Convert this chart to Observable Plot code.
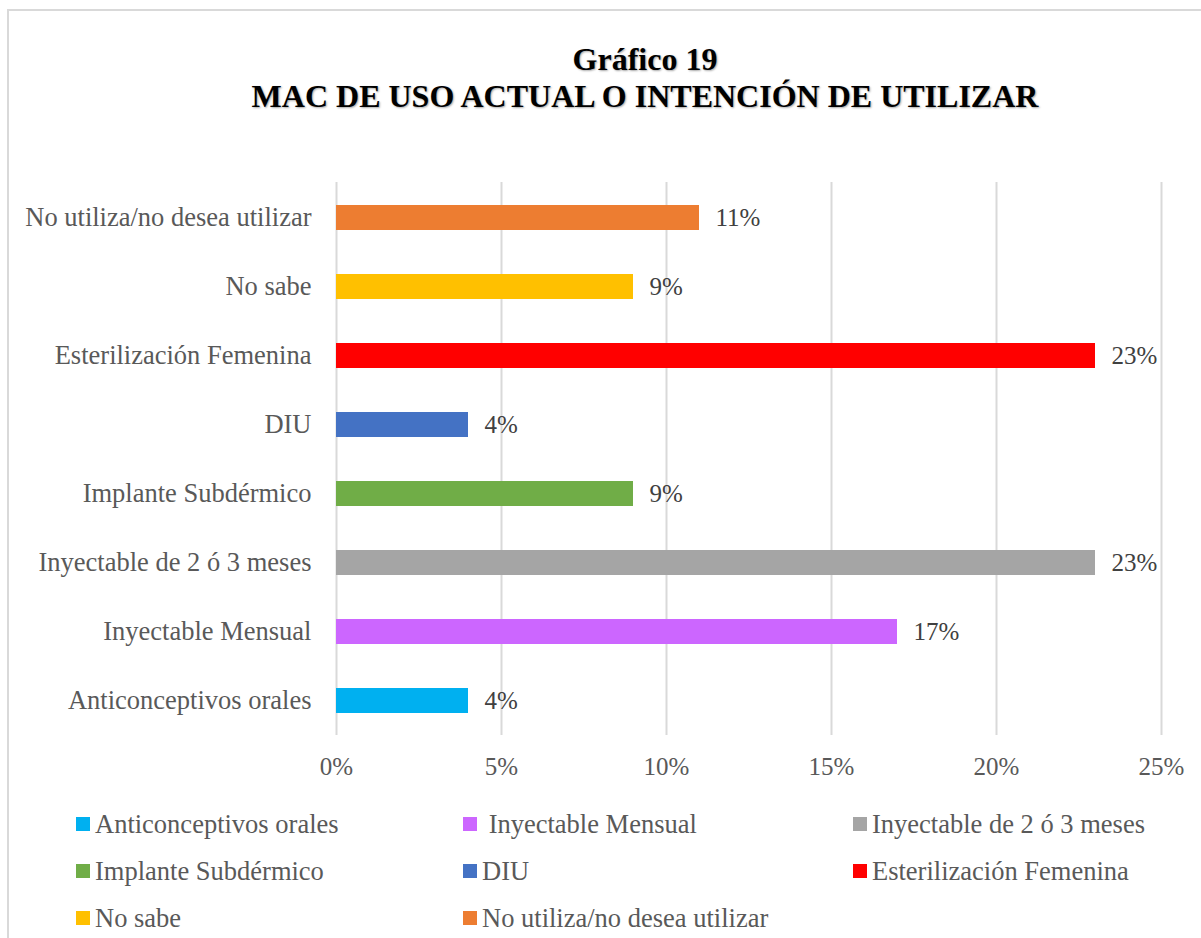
<!DOCTYPE html>
<html>
<head>
<meta charset="utf-8">
<script src="https://cdn.jsdelivr.net/npm/d3@7"></script>
<script src="https://cdn.jsdelivr.net/npm/@observablehq/plot@0.6"></script>
<style>
  html, body { margin: 0; padding: 0; background: #fff; width: 1201px; height: 938px; overflow: hidden; }
  body { position: relative; font-family: "Liberation Serif", "Times New Roman", serif; }
  #frame { position: absolute; left: 7px; top: 9px; width: 1300px; height: 1000px;
           border-left: 2px solid #d9d9d9; border-top: 2px solid #d9d9d9; box-sizing: border-box; }
  #title { position: absolute; left: 245px; width: 800px; top: 41px; text-align: center;
           font-weight: bold; font-size: 32px; line-height: 37px; color: #000;
           text-shadow: 1px 1px 2px rgba(0,0,0,0.35); }
  #chart { position: absolute; left: 0; top: 140px; }
  #legend { position: absolute; left: 0; top: 0; }
  .li { position: absolute; height: 30px; display: flex; align-items: center; white-space: pre;
        font-size: 26.5px; color: #595959; }
  .sw { width: 14px; height: 14px; margin-right: 5px; flex: none; }
</style>
</head>
<body>
<div id="frame"></div>
<div id="title">Gráfico 19<br>MAC DE USO ACTUAL O INTENCIÓN DE UTILIZAR</div>
<div id="chart"></div>
<div id="legend"></div>
<script>
const categories = ["Anticonceptivos orales", "Inyectable Mensual", "Inyectable de 2 ó 3 meses", "Implante Subdérmico", "DIU", "Esterilización Femenina", "No sabe", "No utiliza/no desea utilizar"];
const values = [4, 17, 23, 9, 4, 23, 9, 11];
const colors = ["#00B0F0", "#CC66FF", "#A5A5A5", "#70AD47", "#4472C4", "#FF0000", "#FFC000", "#ED7D31"];
const legendLabels = ["Anticonceptivos orales", " Inyectable Mensual", "Inyectable de 2 ó 3 meses", "Implante Subdérmico", "DIU", "Esterilización Femenina", "No sabe", "No utiliza/no desea utilizar"];
const xTicks = [0, 5, 10, 15, 20, 25];

const data = categories.map((c, i) => ({category: c, value: values[i]}));
const font = '"Liberation Serif", "Times New Roman", serif';

const chart = Plot.plot({
  width: 1201,
  height: 660,
  marginLeft: 336,
  marginRight: 40,
  marginTop: 42,
  marginBottom: 65,
  style: {fontFamily: font, fontSize: "25px", color: "#595959", background: "transparent", overflow: "visible"},
  x: {domain: [0, 25], ticks: xTicks, tickFormat: d => d + "%", label: null},
  y: {domain: categories.slice().reverse(), paddingInner: 0.64, paddingOuter: 0.32, label: null},
  color: {domain: categories, range: colors},
  marks: [
    Plot.gridX(xTicks, {stroke: "#d9d9d9", strokeOpacity: 1, strokeWidth: 2}),
    Plot.barX(data, {y: "category", x: "value", fill: "category"}),
    Plot.text(data, {y: "category", x: "value", text: d => d.value + "%", dx: 16, textAnchor: "start", fill: "#404040", fontSize: 25, fontFamily: font}),
    Plot.axisX({ticks: xTicks, tickSize: 0, tickPadding: 22, tickFormat: d => d + "%", label: null, fontSize: 25, fontFamily: font, fill: "#595959"}),
    Plot.axisY({tickSize: 0, tickPadding: 25, label: null, fontSize: 26.5, fontFamily: font, fill: "#595959"})
  ]
});
document.getElementById("chart").appendChild(chart);

// legend: 3 columns x 3 rows
const colX = [76, 463, 853];
const rowY = [824, 871, 918];
const legend = document.getElementById("legend");
legendLabels.forEach((lab, i) => {
  const item = document.createElement("div");
  item.className = "li";
  item.style.left = colX[i % 3] + "px";
  item.style.top = (rowY[Math.floor(i / 3)] - 15) + "px";
  const sw = document.createElement("span");
  sw.className = "sw";
  sw.style.background = colors[i];
  item.appendChild(sw);
  item.appendChild(document.createTextNode(lab));
  legend.appendChild(item);
});
</script>
</body>
</html>
